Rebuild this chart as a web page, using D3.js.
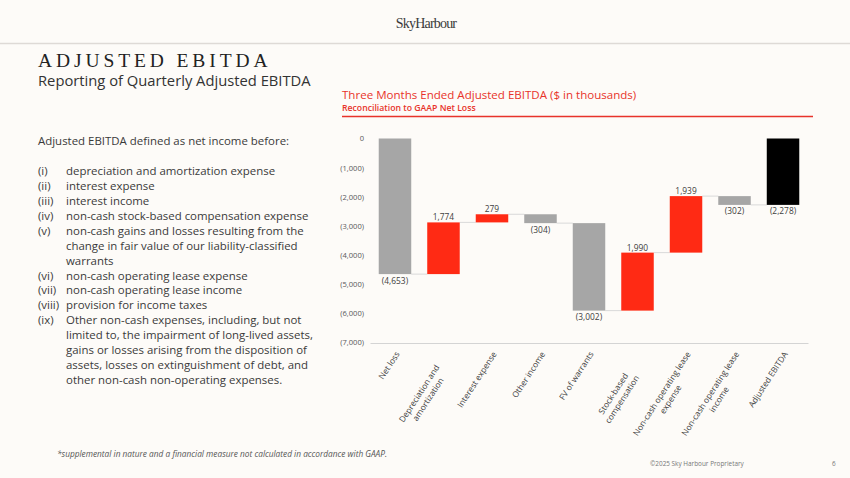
<!DOCTYPE html>
<html>
<head>
<meta charset="utf-8">
<script src="https://cdn.jsdelivr.net/npm/d3@7/dist/d3.min.js"></script>
<style>
  html, body { margin: 0; padding: 0; background: #fdfbf8; }
  svg { display: block; }
</style>
</head>
<body>
<script>
// ---------- DATA ----------
const categories = ["Net loss", "Depreciation and amortization", "Interest expense", "Other income",
  "FV of warrants", "Stock-based compensation", "Non-cash operating lease expense",
  "Non-cash operating lease income", "Adjusted EBITDA"];
const categoryLines = [["Net loss"], ["Depreciation and", "amortization"], ["Interest expense"],
  ["Other income"], ["FV of warrants"], ["Stock-based", "compensation"],
  ["Non-cash operating lease", "expense"], ["Non-cash operating lease", "income"], ["Adjusted EBITDA"]];
const values = [-4653, 1774, 279, -304, -3002, 1990, 1939, -302, -2278];
const kinds = ["start", "increase", "increase", "decrease", "decrease", "increase", "increase", "decrease", "total"];
const valueLabels = ["(4,653)", "1,774", "279", "(304)", "(3,002)", "1,990", "1,939", "(302)", "(2,278)"];
const yTicks = [0, -1000, -2000, -3000, -4000, -5000, -6000, -7000];
const yTickLabels = ["0", "(1,000)", "(2,000)", "(3,000)", "(4,000)", "(5,000)", "(6,000)", "(7,000)"];

const definitionIntro = "Adjusted EBITDA defined as net income before:";
const definitionNumerals = ["(i)", "(ii)", "(iii)", "(iv)", "(v)", "", "", "(vi)", "(vii)", "(viii)", "(ix)", "", "", "", ""];
const definitionLines = ["depreciation and amortization expense", "interest expense", "interest income",
  "non-cash stock-based compensation expense", "non-cash gains and losses resulting from the",
  "change in fair value of our liability-classified", "warrants", "non-cash operating lease expense",
  "non-cash operating lease income", "provision for income taxes", "Other non-cash expenses, including, but not",
  "limited to, the impairment of long-lived assets,", "gains or losses arising from the disposition of",
  "assets, losses on extinguishment of debt, and", "other non-cash non-operating expenses."];

// ---------- STYLE ----------
const W = 850, H = 478;
const SANS = "'Open Sans', 'Noto Sans', sans-serif";
const RED = "#e8332a";
const colorFor = { start: "#a6a6a6", total: "#000000", increase: "#ff2a14", decrease: "#a6a6a6" };

const svg = d3.select("body").append("svg").attr("width", W).attr("height", H);
svg.append("rect").attr("width", W).attr("height", H).attr("fill", "#fdfbf8");

// Header
svg.append("text").attr("x", 426).attr("y", 28).attr("text-anchor", "middle")
  .attr("font-family", "'Liberation Serif', 'DejaVu Serif', serif").attr("font-size", 14)
  .attr("letter-spacing", "-0.8").attr("fill", "#3a3a3a").text("SkyHarbour");
svg.append("line").attr("x1", 0).attr("x2", W).attr("y1", 43.5).attr("y2", 43.5)
  .attr("stroke", "#dedad6").attr("stroke-width", 1.5);

// Slide title
svg.append("text").attr("x", 38).attr("y", 67)
  .attr("font-family", "'Liberation Serif', 'DejaVu Serif', serif").attr("font-size", 19.5)
  .attr("letter-spacing", "3.9").attr("fill", "#222").text("ADJUSTED EBITDA");
svg.append("text").attr("x", 38).attr("y", 86)
  .attr("font-family", SANS).attr("font-size", 14.75).attr("fill", "#333")
  .text("Reporting of Quarterly Adjusted EBITDA");

// Definition text
const defG = svg.append("g").attr("font-family", SANS).attr("font-size", 11.45).attr("fill", "#3a3a3a");
defG.append("text").attr("x", 38).attr("y", 145).text(definitionIntro);
definitionLines.forEach((t, i) => {
  const yy = 175 + i * 14.93;
  if (definitionNumerals[i]) defG.append("text").attr("x", 38).attr("y", yy).text(definitionNumerals[i]);
  defG.append("text").attr("x", 66).attr("y", yy).text(t);
});

// Chart header
svg.append("text").attr("x", 342).attr("y", 99).attr("font-family", SANS).attr("font-size", 11.55)
  .attr("fill", RED).text("Three Months Ended Adjusted EBITDA ($ in thousands)");
svg.append("text").attr("x", 342).attr("y", 110.5).attr("font-family", SANS).attr("font-size", 8.7)
  .attr("font-weight", 600).attr("fill", RED).text("Reconciliation to GAAP Net Loss");
svg.append("line").attr("x1", 342).attr("x2", 813).attr("y1", 116.5).attr("y2", 116.5)
  .attr("stroke", RED).attr("stroke-width", 1.4);

// ---------- WATERFALL ----------
let running = 0;
const bars = values.map((v, i) => {
  let start, end;
  if (kinds[i] === "total" || kinds[i] === "start") { start = 0; end = v; running = v; }
  else { start = running; end = running + v; running = end; }
  return { cat: categories[i], lines: categoryLines[i], v, kind: kinds[i], start, end, label: valueLabels[i] };
});

const x = d3.scaleBand().domain(categories).range([370, 808]).paddingInner(0.33).paddingOuter(0.18);
const y = d3.scaleLinear().domain([-7000, 0]).range([342.5, 138.5]);

// y axis labels
const yAxis = d3.axisLeft(y).tickValues(yTicks).tickFormat((d, i) => yTickLabels[i]).tickSize(0).tickPadding(0);
const yg = svg.append("g").attr("transform", "translate(364,0)").call(yAxis);
yg.select(".domain").remove();
yg.selectAll("text").attr("font-family", SANS).attr("font-size", 7.6).attr("fill", "#595959").attr("dy", "0.32em");

// x axis line
const xAxis = d3.axisBottom(x).tickSize(0).tickFormat("");
const xg = svg.append("g").attr("transform", `translate(0,${y(-7000) + 0.5})`).call(xAxis);
xg.select(".domain").attr("stroke", "#d4d4d4").attr("stroke-width", 1);

// connectors
svg.append("g").selectAll("line").data(bars.slice(0, -1)).join("line")
  .attr("x1", (d) => x(d.cat) + x.bandwidth())
  .attr("x2", (d, i) => x(categories[i + 1]))
  .attr("y1", (d) => y(d.end)).attr("y2", (d) => y(d.end))
  .attr("stroke", "#d9d9d9").attr("stroke-width", 1);

// bars
svg.append("g").selectAll("rect").data(bars).join("rect")
  .attr("x", (d) => x(d.cat)).attr("width", x.bandwidth())
  .attr("y", (d) => y(Math.max(d.start, d.end)))
  .attr("height", (d) => Math.abs(y(d.start) - y(d.end)))
  .attr("fill", (d) => colorFor[d.kind]);

// value labels
svg.append("g").selectAll("text").data(bars).join("text")
  .attr("x", (d) => x(d.cat) + x.bandwidth() / 2)
  .attr("y", (d) => d.v > 0 ? y(Math.max(d.start, d.end)) - 2 : y(Math.min(d.start, d.end)) + 9.5)
  .attr("text-anchor", "middle").attr("font-family", SANS).attr("font-size", 8.4)
  .attr("fill", "#404040").text((d) => d.label);

// category labels (rotated, wrapped lines centred in a common box)
const ANG = -57, LH = 10.5, LFS = 8.3;
const lblG = svg.append("g").attr("font-family", SANS).attr("font-size", LFS).attr("fill", "#404040");
const probe = lblG.append("text").text("Non-cash operating lease");
const boxW = probe.node().getComputedTextLength();
probe.remove();
bars.forEach((d) => {
  const g = lblG.append("g")
    .attr("transform", `translate(${x(d.cat) + x.bandwidth() / 2 + 5},${y(-7000) + 11.5}) rotate(${ANG})`);
  if (d.lines.length === 1) {
    g.append("text").attr("text-anchor", "end").attr("x", 0).attr("y", 0).text(d.lines[0]);
  } else {
    d.lines.forEach((t, j) => {
      g.append("text").attr("text-anchor", "middle").attr("x", -boxW / 2).attr("y", j * LH).text(t);
    });
  }
});

// Footer
svg.append("text").attr("x", 57).attr("y", 457).attr("font-family", SANS).attr("font-size", 8.3)
  .attr("font-style", "italic").attr("fill", "#555")
  .text("*supplemental in nature and a financial measure not calculated in accordance with GAAP.");
svg.append("text").attr("x", 650).attr("y", 466).attr("font-family", SANS).attr("font-size", 6.4)
  .attr("fill", "#777").text("©2025 Sky Harbour Proprietary");
svg.append("text").attr("x", 832).attr("y", 466).attr("font-family", SANS).attr("font-size", 6.4)
  .attr("fill", "#777").text("6");
</script>
</body>
</html>
